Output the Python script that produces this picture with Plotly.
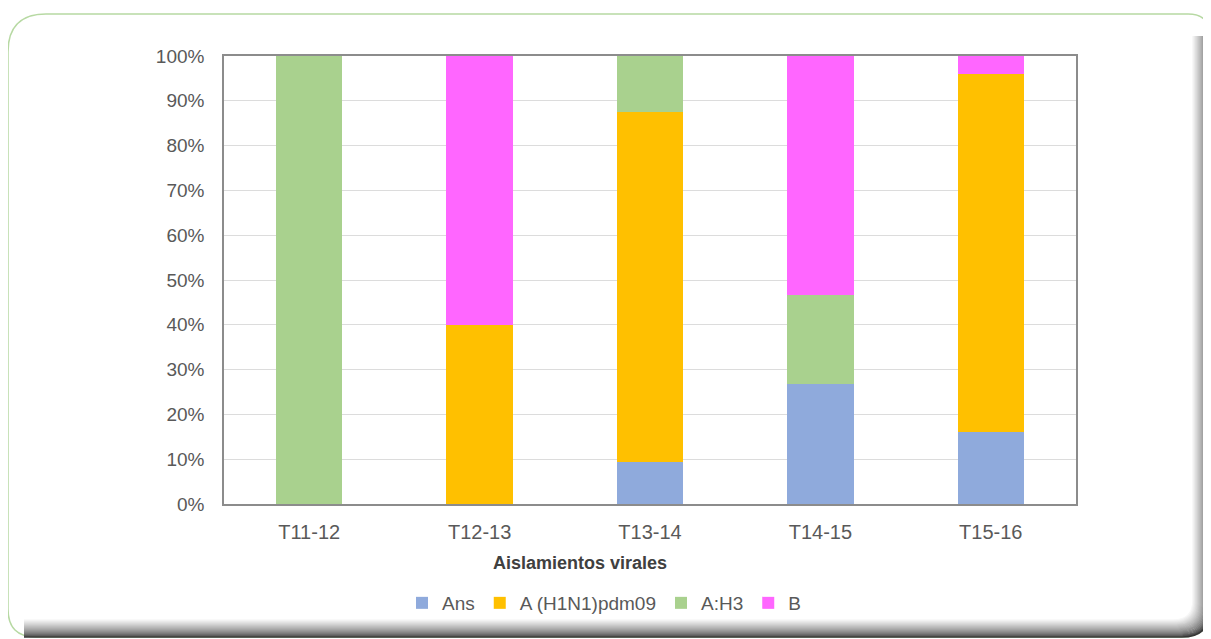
import plotly.graph_objects as go

# ---- data (percent of viral isolates per season) ----
seasons = ["T11-12", "T12-13", "T13-14", "T14-15", "T15-16"]
ans = [0, 0, 9.4, 26.7, 16.0]
a_h1n1 = [0, 40.0, 78.1, 0, 80.0]
a_h3 = [100.0, 0, 12.5, 20.0, 0]
b = [0, 60.0, 0, 53.3, 4.0]

series_names = ["Ans", "A (H1N1)pdm09", "A:H3", "B"]
series_vals = [ans, a_h1n1, a_h3, b]
series_colors = ["#8faadc", "#ffc000", "#a9d18e", "#ff66ff"]

# the page body adds an 8px margin, so work in page pixels and shift by it
OFF = 8
W, H = 1211 - OFF, 639 - OFF
L, R, T, B = 224, 1076, 56, 504  # plot-area box in page pixels


def px(x):
    return (x - L) / (R - L)


def py(y):
    return (B - y) / (B - T)


def P(x, y):
    return f"{px(x):.5f},{py(y):.5f}"


fig = go.Figure()
for name, vals, col in zip(series_names, series_vals, series_colors):
    fig.add_trace(go.Bar(x=seasons, y=vals, name=name, marker_color=col,
                         marker_line_width=0))

# ---- card frame with inner shadow ----
shapes = []
cl, ct, cr, cb = 8, 14, 1210, 637
rtl, rtr, rbl, rbr = 38, 22, 28, 28
card = (f"M{P(cl, ct + rtl)} Q{P(cl, ct)} {P(cl + rtl, ct)} "
        f"L{P(cr - rtr, ct)} Q{P(cr, ct)} {P(cr, ct + rtr)} "
        f"L{P(cr, cb - rbr)} Q{P(cr, cb)} {P(cr - rbr, cb)} "
        f"L{P(cl + rbl, cb)} Q{P(cl, cb)} {P(cl, cb - rbl)} Z")
shapes.append(dict(type="path", xref="paper", yref="paper", path=card,
                   fillcolor="white", line=dict(color="#b7d9a3", width=1.5),
                   layer="below"))
N = 18
for i in range(N - 1, -1, -1):
    d = i
    t = (d / N) ** 0.7
    g = int(55 + (255 - 55) * t)
    col = f"rgb({g},{g},{g})"
    x = cr - d
    y = cb - d
    rr = max(rbr - d * 0.5, 6)
    path = (f"M{P(x, ct + rtr)} L{P(x, y - rr)} Q{P(x, y)} {P(x - rr, y)} "
            f"L{P(cl + 16, y)}")
    shapes.append(dict(type="path", xref="paper", yref="paper", path=path,
                       line=dict(color=col, width=1.6), layer="below"))

fig.update_layout(
    width=W, height=H,
    margin=dict(l=L - OFF, r=(W + OFF) - R, t=T - OFF, b=(H + OFF) - B, pad=0),
    paper_bgcolor="white",
    plot_bgcolor="rgba(0,0,0,0)",
    barmode="stack",
    bargap=0.61,
    font=dict(family="Liberation Sans, Arial, sans-serif", color="#595959"),
    shapes=shapes,
    showlegend=True,
    legend=dict(orientation="h", x=px(604), xanchor="center", y=py(603),
                yanchor="middle", traceorder="normal",
                font=dict(size=19, color="#595959"),
                bgcolor="rgba(0,0,0,0)"),
    annotations=[dict(text="<b>Aislamientos virales</b>", xref="paper",
                      yref="paper", x=px(580), y=py(563), xanchor="center",
                      yanchor="middle", showarrow=False,
                      font=dict(size=18, color="#404040"))],
)
fig.update_xaxes(showline=True, mirror=True, linecolor="#8c8c8c", linewidth=1.5,
                 showgrid=False, ticks="", tickfont=dict(size=20, color="#595959"),
                 ticklabelstandoff=9)
fig.update_yaxes(range=[0, 100], dtick=10, ticksuffix="%", showline=True,
                 mirror=True, linecolor="#8c8c8c", linewidth=1.5,
                 showgrid=True, gridcolor="#dcdcdc", gridwidth=1, zeroline=False,
                 ticks="", tickfont=dict(size=19, color="#595959"),
                 ticklabelstandoff=14)

fig.write_html("out.html")
